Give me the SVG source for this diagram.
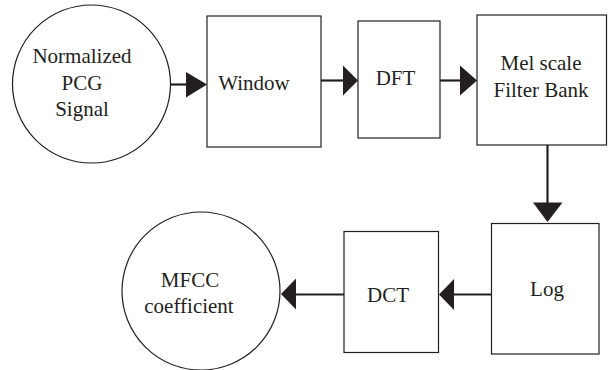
<svg xmlns="http://www.w3.org/2000/svg" width="608" height="370" viewBox="0 0 608 370">
  <style>
    .shape { fill: #ffffff; stroke: #231f20; stroke-width: 1.2; }
    .label { font-family: "Liberation Serif", "Times New Roman", serif; font-size: 21px; fill: #231f20; text-anchor: middle; }
    .wire { stroke: #231f20; stroke-width: 2.2; fill: none; }
    .head { fill: #231f20; stroke: none; }
  </style>
  <rect width="608" height="370" fill="#ffffff"/>

  <!-- connectors -->
  <g id="connectors">
    <line class="wire" x1="171" y1="84.5" x2="187" y2="84.5"/>
    <polygon class="head" points="186,72 207,84.5 186,97.5"/>

    <line class="wire" x1="321" y1="80.5" x2="344" y2="80.5"/>
    <polygon class="head" points="343,65.5 358,80.5 343,95.5"/>

    <line class="wire" x1="440" y1="80.5" x2="461" y2="80.5"/>
    <polygon class="head" points="460,65.5 477,80.5 460,95.5"/>

    <line class="wire" x1="547.5" y1="145" x2="547.5" y2="203"/>
    <polygon class="head" points="533,202.5 562.5,202.5 547.5,222"/>

    <line class="wire" x1="491.5" y1="294.5" x2="453" y2="294.5"/>
    <polygon class="head" points="454,279 439,294.5 454,310"/>

    <line class="wire" x1="344" y1="294.5" x2="295" y2="294.5"/>
    <polygon class="head" points="296,278.5 281,294 296,309.5"/>
  </g>

  <!-- nodes -->
  <g id="node-pcg">
    <circle class="shape" cx="91.5" cy="84" r="79"/>
    <text class="label" x="82" y="63">Normalized</text>
    <text class="label" x="82" y="90">PCG</text>
    <text class="label" x="82" y="116">Signal</text>
  </g>

  <g id="node-window">
    <rect class="shape" x="207" y="16" width="114" height="131"/>
    <text class="label" x="254" y="90">Window</text>
  </g>

  <g id="node-dft">
    <rect class="shape" x="358" y="21" width="82" height="117"/>
    <text class="label" x="395.5" y="85">DFT</text>
  </g>

  <g id="node-mel">
    <rect class="shape" x="477" y="15" width="129.5" height="130"/>
    <text class="label" x="541" y="70">Mel scale</text>
    <text class="label" x="541" y="97">Filter Bank</text>
  </g>

  <g id="node-log">
    <rect class="shape" x="491.5" y="223.5" width="107.5" height="130.5"/>
    <text class="label" x="547" y="296">Log</text>
  </g>

  <g id="node-dct">
    <rect class="shape" x="344" y="231.5" width="94.5" height="121"/>
    <text class="label" x="388" y="302">DCT</text>
  </g>

  <g id="node-mfcc">
    <circle class="shape" cx="201" cy="291" r="79"/>
    <text class="label" x="190" y="287">MFCC</text>
    <text class="label" x="189" y="313">coefficient</text>
  </g>
</svg>
